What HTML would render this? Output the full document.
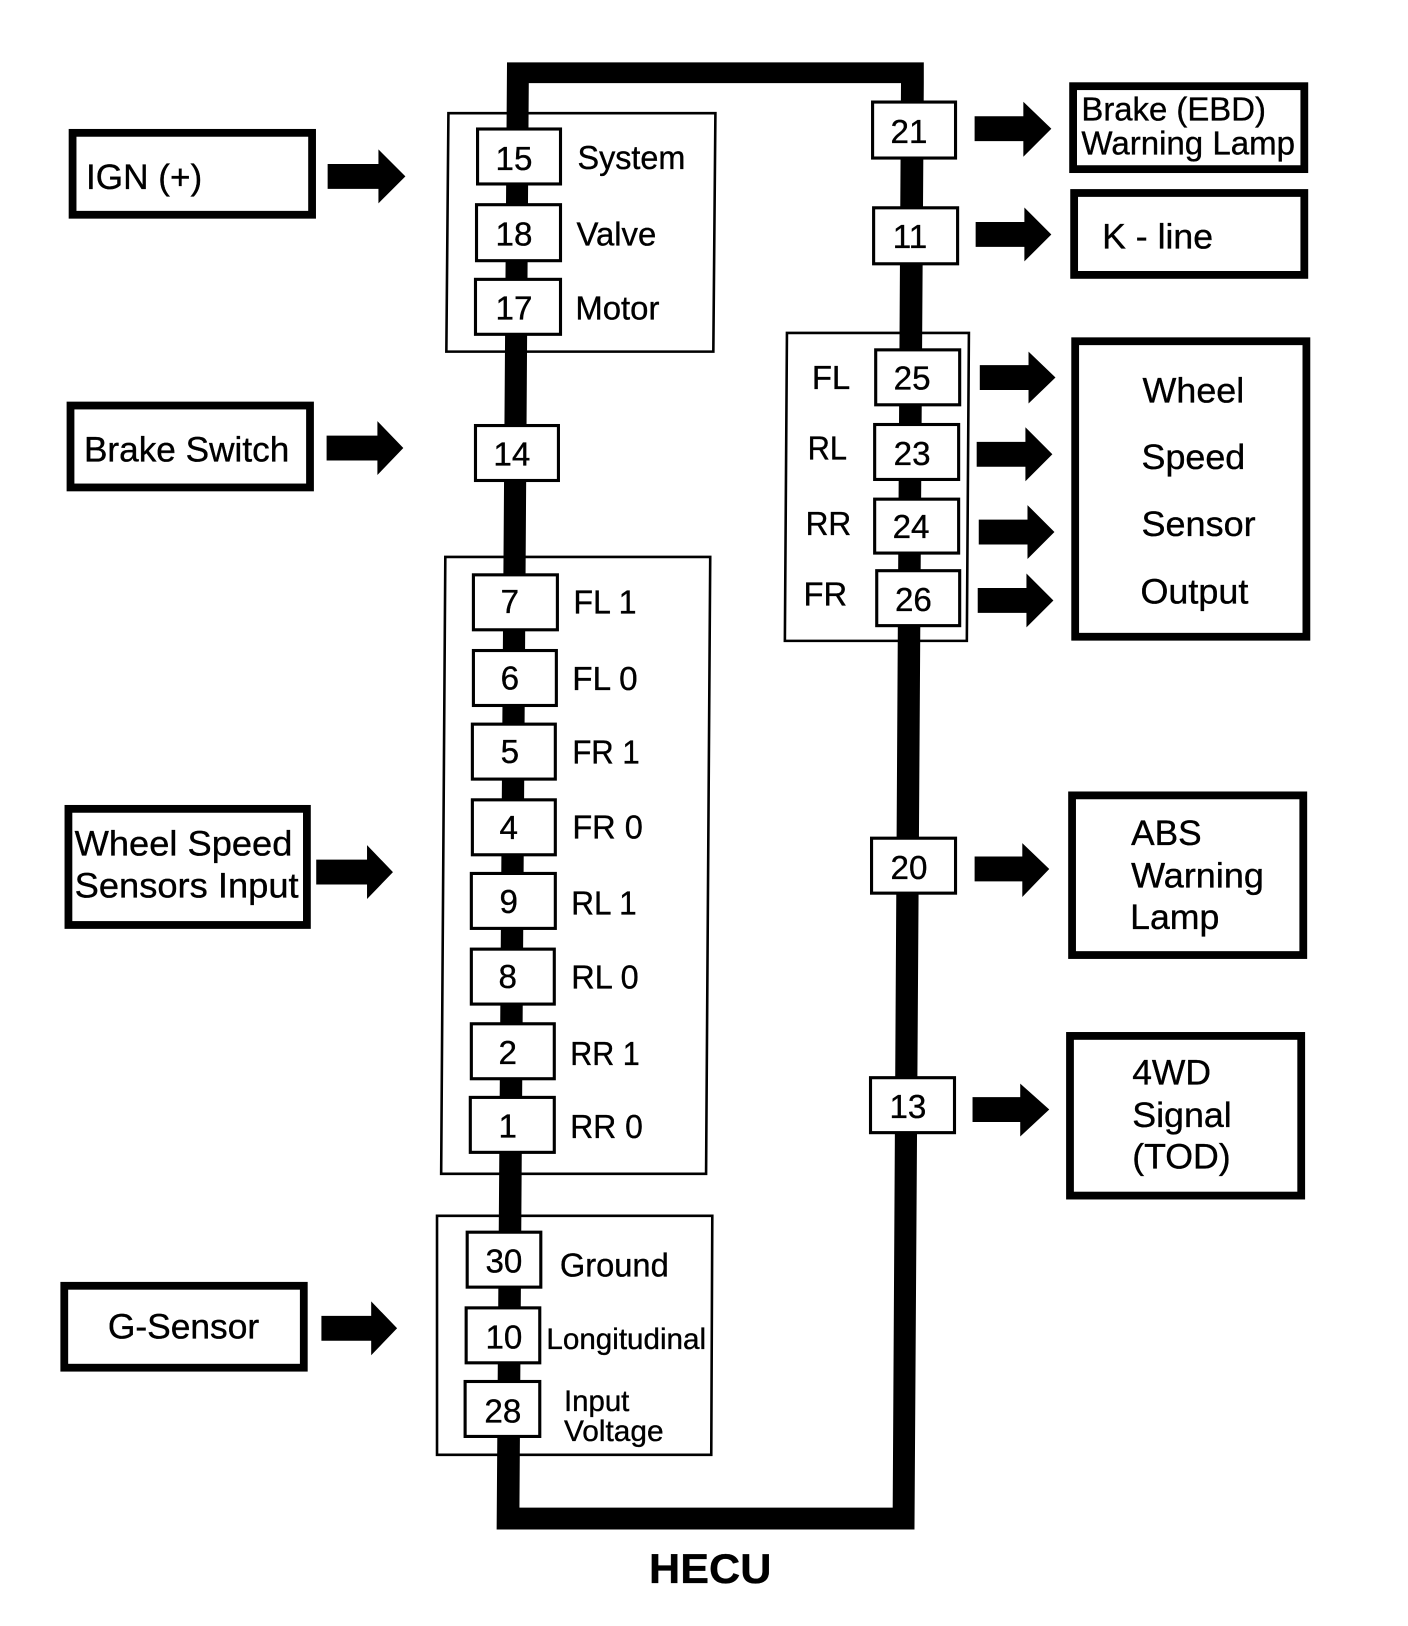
<!DOCTYPE html>
<html><head><meta charset="utf-8"><style>
html,body{margin:0;padding:0;background:#fff}
svg{display:block}
text{font-family:"Liberation Sans",sans-serif;font-size:32px;fill:#000;stroke:#000;stroke-width:.35}
.n{text-anchor:middle}
.b{font-size:34px}
.s{font-size:29px}
.t rect{fill:#fff;stroke:#000;stroke-width:3}
.g polygon{fill:none;stroke:#000;stroke-width:2.5}
.o rect{fill:#fff;stroke:#000;stroke-width:7.5}
</style></head><body>
<svg xmlns="http://www.w3.org/2000/svg" width="1408" height="1626" viewBox="0 0 1358 1568">
<rect width="1358" height="1568" fill="#fff"/>
<g class="g">
<polygon points="432.5,109 690,109 688,339 430.5,339"/>
<polygon points="429.5,537 685,537 681,1132 425.5,1132"/>
<polygon points="421.5,1172.5 687,1172.5 686,1403 421.5,1403"/>
<polygon points="759,321 934.5,321 932.5,618 757,618"/>
</g>
<g fill="#000">
<polygon points="489,60 891,60 891,80 510,80 501,1454 861,1454 869,80 891,80 882,1475 479,1475"/>
</g>
<g class="t" transform="translate(.6,.3)">
<rect x="460" y="124" width="80" height="53"/>
<rect x="459" y="197" width="81" height="54"/>
<rect x="458" y="269" width="82" height="53"/>
<rect x="458" y="410" width="80" height="53"/>
<rect x="456" y="554" width="81" height="53"/>
<rect x="456" y="627" width="80" height="53"/>
<rect x="455" y="698" width="80" height="53"/>
<rect x="455" y="771" width="80" height="53"/>
<rect x="454" y="842" width="81" height="53"/>
<rect x="454" y="915" width="80" height="53"/>
<rect x="454" y="987" width="80" height="53"/>
<rect x="453" y="1058" width="81" height="53"/>
<rect x="450" y="1188" width="71" height="53"/>
<rect x="449" y="1261" width="71" height="53"/>
<rect x="448" y="1332" width="72" height="53"/>
<rect x="841" y="98" width="80" height="54"/>
<rect x="842" y="200" width="81" height="54"/>
<rect x="844" y="337" width="81" height="53"/>
<rect x="843" y="409" width="81" height="53"/>
<rect x="843" y="481" width="81" height="52"/>
<rect x="845" y="550" width="80" height="53"/>
<rect x="840" y="808" width="81" height="53"/>
<rect x="839" y="1039" width="81" height="53"/>
</g>
<g class="o">
<rect x="70" y="128" width="231" height="79"/>
<rect x="68" y="391" width="231" height="79"/>
<rect x="66" y="780" width="230" height="112"/>
<rect x="62" y="1240" width="231" height="79"/>
<rect x="1035" y="83" width="223" height="80"/>
<rect x="1036" y="186" width="222" height="79"/>
<rect x="1037" y="329" width="223" height="285"/>
<rect x="1034" y="767" width="223" height="154"/>
<rect x="1032" y="999" width="223" height="154"/>
</g>
<g fill="#000">
<polygon points="316,158 365,158 365,144 391,170 365,196 365,182 316,182"/>
<polygon points="315,420 364,420 364,406 389,432 364,458 364,444 315,444"/>
<polygon points="305,829 354,829 354,815 379,841 354,867 354,853 305,853"/>
<polygon points="310,1269 358,1269 358,1255 383,1281 358,1307 358,1293 310,1293"/>
<polygon points="940,112 987,112 987,98 1014,124 987,151 987,136 940,136"/>
<polygon points="941,214 988,214 988,200 1014,226 988,252 988,238 941,238"/>
<polygon points="945,352 992,352 992,339 1018,364 992,389 992,376 945,376"/>
<polygon points="942,426 989,426 989,412 1015,438 989,464 989,450 942,450"/>
<polygon points="944,501 991,501 991,487 1017,513 991,539 991,525 944,525"/>
<polygon points="943,567 990,567 990,553 1016,579 990,605 990,591 943,591"/>
<polygon points="940,826 986,826 986,813 1012,838 986,865 986,850 940,850"/>
<polygon points="938,1058 984,1058 984,1045 1012,1070 984,1096 984,1082 938,1082"/>
</g>
<g class="n">
<text x="495.7" y="164">15</text><text x="495.7" y="236.5">18</text><text x="495.7" y="308">17</text>
<text x="493.7" y="449">14</text><text x="491.7" y="591">7</text><text x="491.7" y="665">6</text>
<text x="491.7" y="736">5</text><text x="490.7" y="809">4</text><text x="490.7" y="880.5">9</text>
<text x="489.7" y="953">8</text><text x="489.7" y="1026">2</text><text x="489.7" y="1097">1</text>
<text x="486" y="1227">30</text><text x="486" y="1300.5">10</text><text x="485" y="1372">28</text>
<text x="876.7" y="138">21</text><text x="877.7" y="239">11</text><text x="879.7" y="375.5">25</text>
<text x="879.7" y="448.5">23</text><text x="878.7" y="519">24</text><text x="881" y="589">26</text>
<text x="876.7" y="847.5">20</text><text x="875.7" y="1078">13</text>
</g>
<g>
<text class="b" x="83" y="182" textLength="112" lengthAdjust="spacingAndGlyphs">IGN (+)</text>
<text class="b" x="81" y="445" textLength="198" lengthAdjust="spacingAndGlyphs">Brake Switch</text>
<text class="b" x="72" y="825" textLength="210" lengthAdjust="spacingAndGlyphs">Wheel Speed</text>
<text class="b" x="72" y="865.5" textLength="216" lengthAdjust="spacingAndGlyphs">Sensors Input</text>
<text class="b" x="104" y="1291" textLength="146" lengthAdjust="spacingAndGlyphs">G-Sensor</text>
<text x="1043" y="116" textLength="178" lengthAdjust="spacingAndGlyphs">Brake (EBD)</text>
<text x="1043" y="149" textLength="206" lengthAdjust="spacingAndGlyphs">Warning Lamp</text>
<text class="b" x="1063" y="239.5" textLength="107" lengthAdjust="spacingAndGlyphs">K - line</text>
<text class="b" x="1102" y="388" textLength="98" lengthAdjust="spacingAndGlyphs">Wheel</text>
<text class="b" x="1101" y="452" textLength="100" lengthAdjust="spacingAndGlyphs">Speed</text>
<text class="b" x="1101" y="517" textLength="110" lengthAdjust="spacingAndGlyphs">Sensor</text>
<text class="b" x="1100" y="582" textLength="104" lengthAdjust="spacingAndGlyphs">Output</text>
<text class="b" x="1091" y="815" textLength="68" lengthAdjust="spacingAndGlyphs">ABS</text>
<text class="b" x="1091" y="856" textLength="128" lengthAdjust="spacingAndGlyphs">Warning</text>
<text class="b" x="1090" y="896" textLength="86" lengthAdjust="spacingAndGlyphs">Lamp</text>
<text class="b" x="1092" y="1046" textLength="76" lengthAdjust="spacingAndGlyphs">4WD</text>
<text class="b" x="1092" y="1087" textLength="96" lengthAdjust="spacingAndGlyphs">Signal</text>
<text class="b" x="1092" y="1127" textLength="95" lengthAdjust="spacingAndGlyphs">(TOD)</text>
<text x="557" y="163" textLength="104" lengthAdjust="spacingAndGlyphs">System</text>
<text x="556" y="236.5" textLength="77" lengthAdjust="spacingAndGlyphs">Valve</text>
<text x="555" y="308" textLength="81" lengthAdjust="spacingAndGlyphs">Motor</text>
<text x="783" y="375" textLength="37" lengthAdjust="spacingAndGlyphs">FL</text>
<text x="779" y="443" textLength="38" lengthAdjust="spacingAndGlyphs">RL</text>
<text x="777" y="516" textLength="44" lengthAdjust="spacingAndGlyphs">RR</text>
<text x="775" y="584" textLength="42" lengthAdjust="spacingAndGlyphs">FR</text>
<text x="553" y="591.5" textLength="61" lengthAdjust="spacingAndGlyphs">FL 1</text>
<text x="552" y="665.5" textLength="63" lengthAdjust="spacingAndGlyphs">FL 0</text>
<text x="552" y="736.5" textLength="65" lengthAdjust="spacingAndGlyphs">FR 1</text>
<text x="552" y="808.5" textLength="68" lengthAdjust="spacingAndGlyphs">FR 0</text>
<text x="551" y="882" textLength="63" lengthAdjust="spacingAndGlyphs">RL 1</text>
<text x="551" y="953.5" textLength="65" lengthAdjust="spacingAndGlyphs">RL 0</text>
<text x="550" y="1027" textLength="67" lengthAdjust="spacingAndGlyphs">RR 1</text>
<text x="550" y="1097.5" textLength="70" lengthAdjust="spacingAndGlyphs">RR 0</text>
<text x="540" y="1231" textLength="105" lengthAdjust="spacingAndGlyphs">Ground</text>
<text class="s" x="527" y="1301" textLength="154" lengthAdjust="spacingAndGlyphs">Longitudinal</text>
<text class="s" x="544" y="1361" textLength="63" lengthAdjust="spacingAndGlyphs">Input</text>
<text class="s" x="544" y="1389.5" textLength="96" lengthAdjust="spacingAndGlyphs">Voltage</text>
<text x="626" y="1526.5" style="font-size:40px;font-weight:bold" textLength="118" lengthAdjust="spacingAndGlyphs">HECU</text>
</g>
</svg>
</body></html>
